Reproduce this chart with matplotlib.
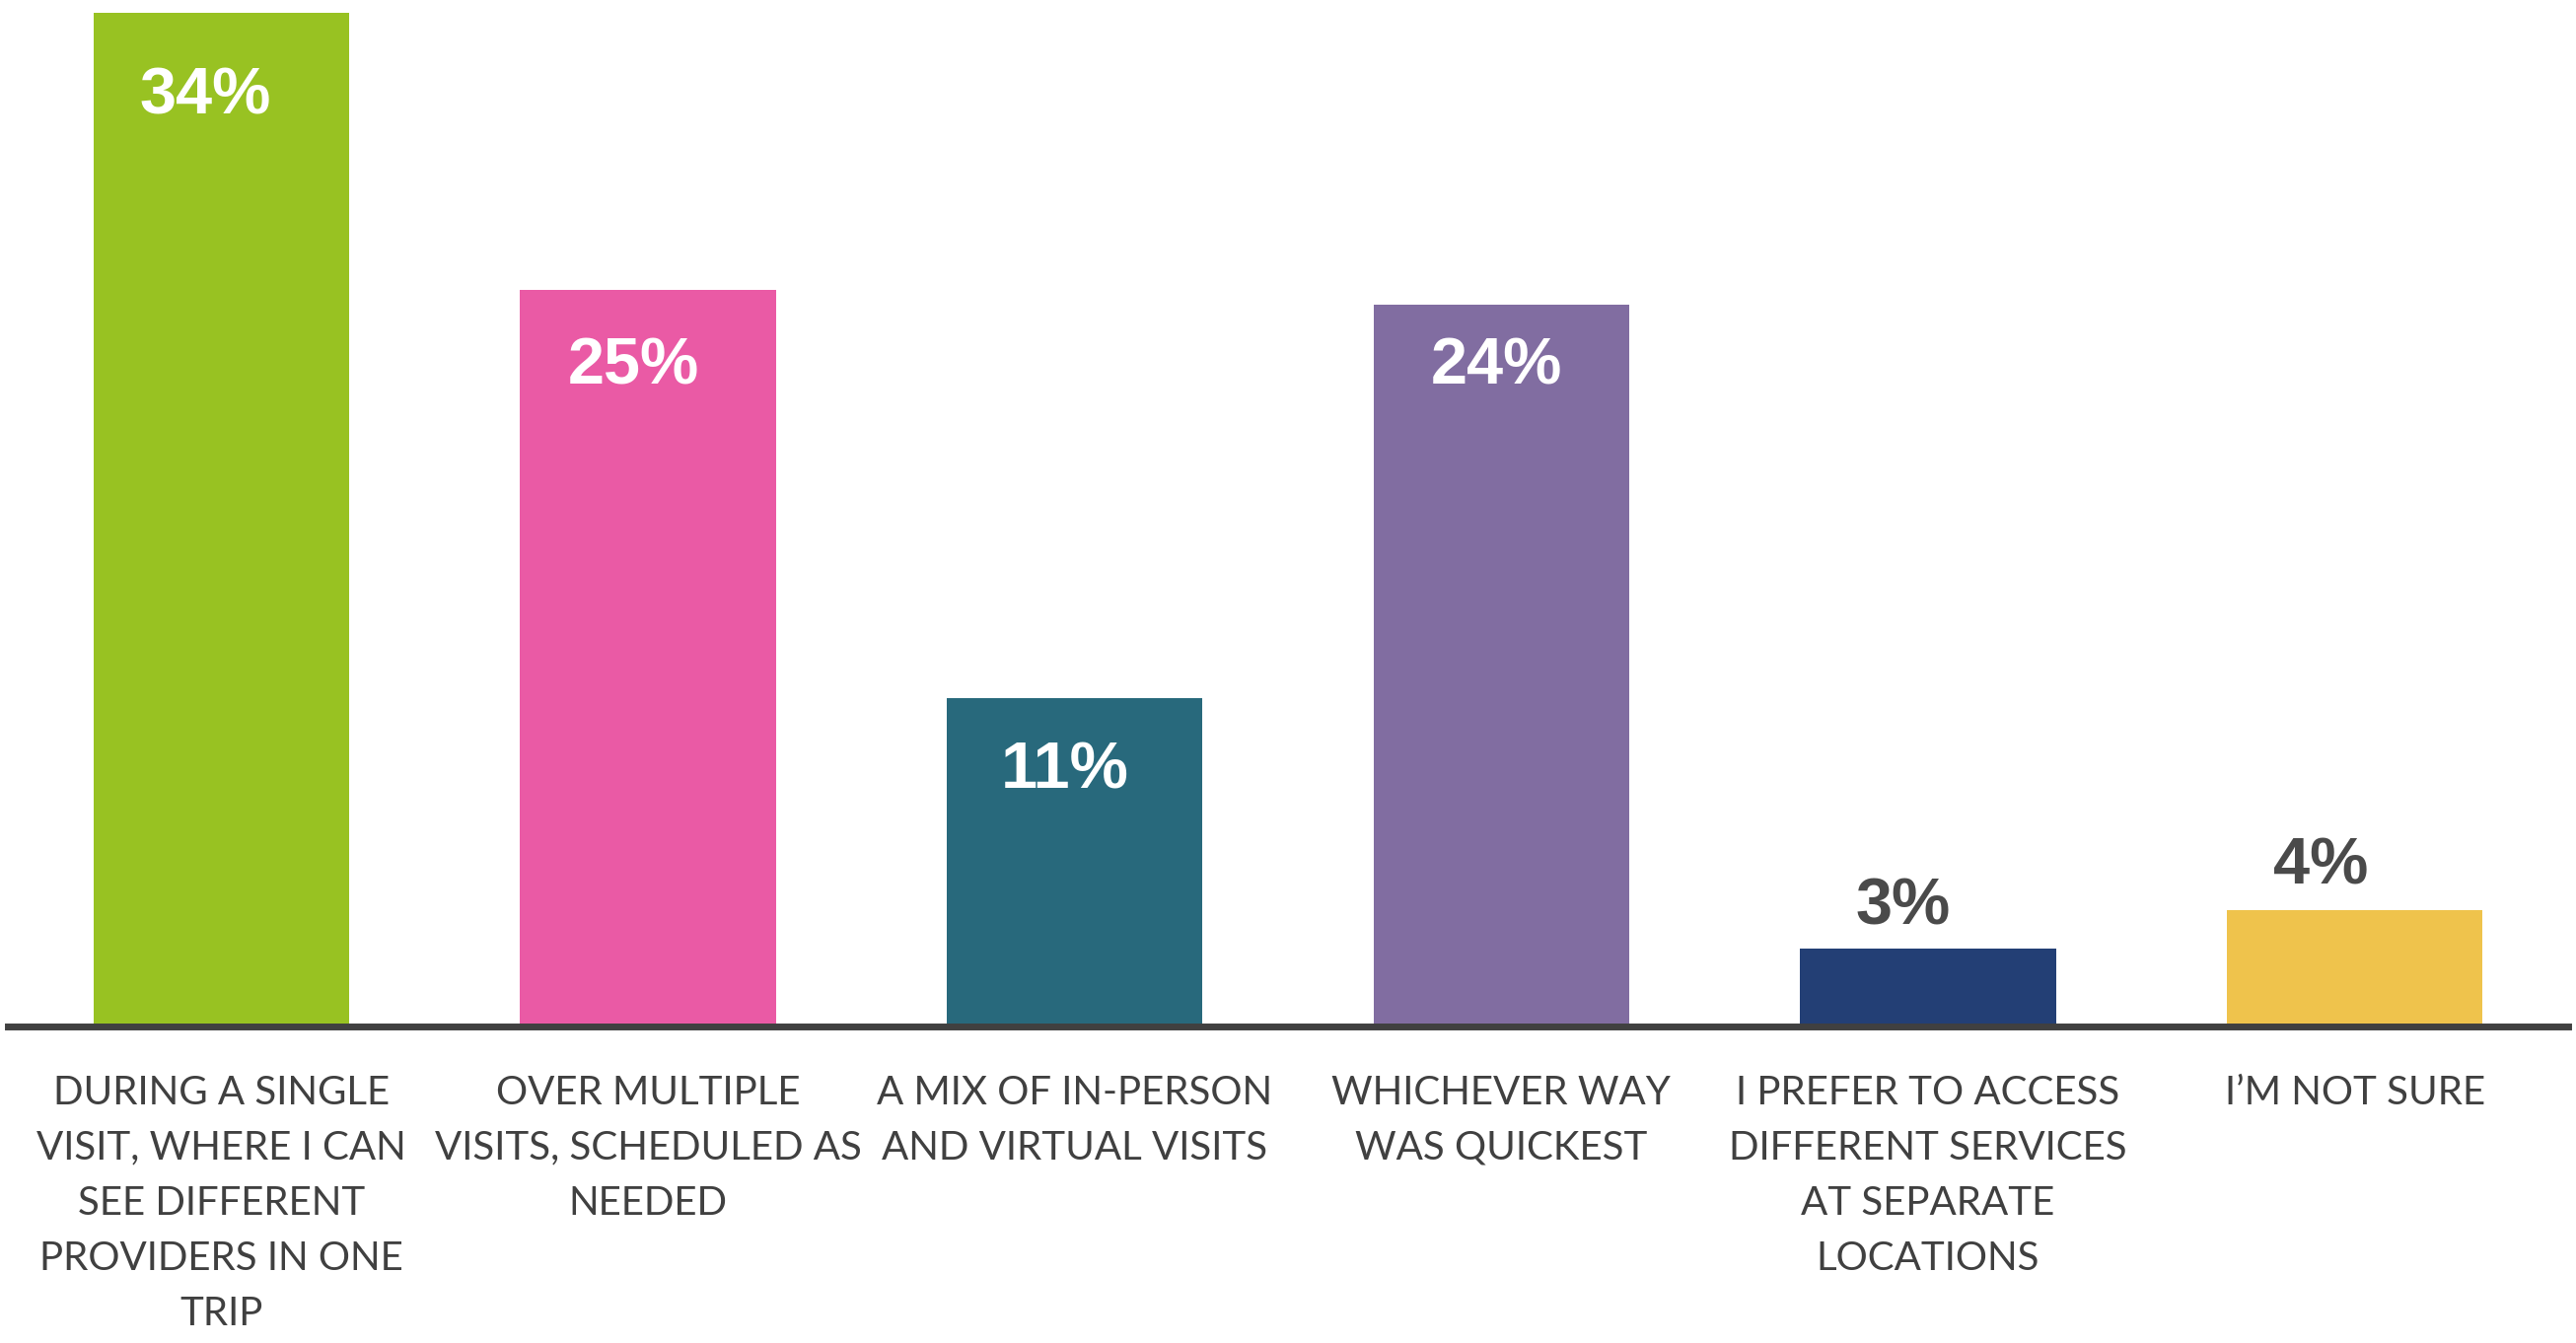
import matplotlib.pyplot as plt

# survey answers, bar heights in percent
categories = [
    "DURING A SINGLE\nVISIT, WHERE I CAN\nSEE DIFFERENT\nPROVIDERS IN ONE\nTRIP",
    "OVER MULTIPLE\nVISITS, SCHEDULED AS\nNEEDED",
    "A MIX OF IN-PERSON\nAND VIRTUAL VISITS",
    "WHICHEVER WAY\nWAS QUICKEST",
    "I PREFER TO ACCESS\nDIFFERENT SERVICES\nAT SEPARATE\nLOCATIONS",
    "I\u2019M NOT SURE",
]
values = [34.0, 24.7, 11.0, 24.2, 2.6, 3.9]
colors = ["#98C222", "#EA5AA5", "#28697C", "#816DA1", "#233F75", "#EFC34C"]

# where each value label sits relative to the bar top (pixels)
label_dx = [-16, -15, -10, -5, -25, -34]
label_dy = [-86, -78, -74, -63, 42, 44]

W, H = 2612, 1362
fig = plt.figure(figsize=(W / 100, H / 100), dpi=100)
ax = fig.add_axes([8 / W, 1 - 1041 / H, (2604 - 8) / W, 1040 / H])

x = range(len(values))
ax.bar(x, values, width=0.6, color=colors)
ax.set_xlim(-0.5, 5.5)
ax.set_ylim(0, 1040 / 30.24)

for s in ["top", "left", "right"]:
    ax.spines[s].set_visible(False)
ax.spines["bottom"].set_linewidth(5)
ax.spines["bottom"].set_color("#404040")
ax.set_yticks([])

ax.set_xticks(list(x))
ax.set_xticklabels(categories, fontsize=29, family="Lato", color="#404040",
                   linespacing=1.64, va="top")
ax.tick_params(axis="x", length=0, pad=35)

for i, v in enumerate(values):
    inside = v > 8
    ax.annotate(f"{round(v)}%", (i, v), xytext=(label_dx[i], label_dy[i]),
                textcoords="offset pixels", ha="center", va="center",
                color="white" if inside else "#4A4A4A",
                fontsize=48, fontweight="bold", family="Liberation Sans")

fig.savefig("out.png", dpi=100)
